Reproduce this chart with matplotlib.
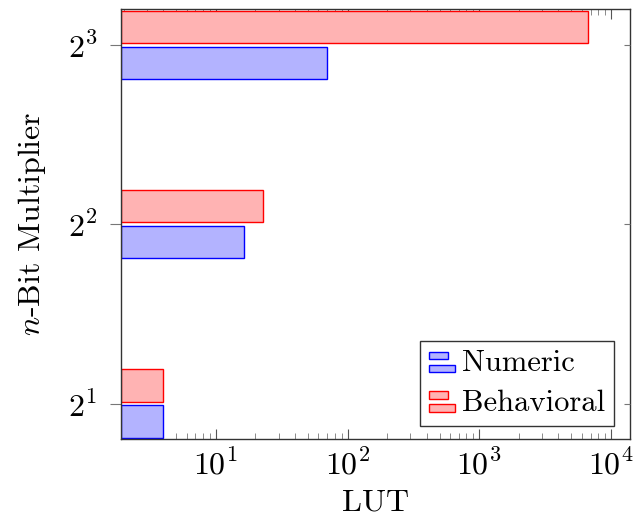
import numpy as np
import matplotlib
matplotlib.use("Agg")
import matplotlib.pyplot as plt
from matplotlib.patches import Rectangle
from matplotlib.legend_handler import HandlerBase
from matplotlib.ticker import LogLocator, FixedLocator, NullLocator, NullFormatter

plt.rcParams["font.family"] = "serif"
plt.rcParams["font.serif"] = ["cmr10"]
plt.rcParams["mathtext.fontset"] = "cm"
plt.rcParams["axes.formatter.use_mathtext"] = True

# data
bits = [2, 4, 8]
numeric_lut = [4, 16.5, 70]
behavioral_lut = [4, 23, 6700]

blue_fill = "#b3b3ff"
red_fill = "#ffb3b3"

# bar placement in octaves (log2 units) around each tick
gap = 0.01
bar_h = 0.18
xmin, xmax = 1.9, 14000
ylo, yhi = 2 ** 0.8, 2 ** 3.2


class TwoBarHandler(HandlerBase):
    def __init__(self, fc, ec):
        super().__init__()
        self.fc = fc
        self.ec = ec

    def create_artists(self, legend, orig_handle, xdescent, ydescent,
                       width, height, fontsize, trans):
        h = height * 0.36
        r1 = Rectangle((-xdescent, -ydescent + height * 0.55), width * 0.72, h,
                       fc=self.fc, ec=self.ec, lw=1.0, transform=trans)
        r2 = Rectangle((-xdescent, -ydescent - height * 0.05), width, h,
                       fc=self.fc, ec=self.ec, lw=1.0, transform=trans)
        return [r1, r2]


fig = plt.figure(figsize=(6.43, 5.2), dpi=100)
ax = fig.add_axes([0.188, 0.155, 0.792, 0.828])

b = np.array(bits, dtype=float)
blue_bottom = b * 2 ** (-gap - bar_h)
blue_top = b * 2 ** (-gap)
red_bottom = b * 2 ** gap
red_top = b * 2 ** (gap + bar_h)

ax.barh(blue_bottom, np.array(numeric_lut) - xmin, height=blue_top - blue_bottom,
        left=xmin, align="edge", color=blue_fill, edgecolor="blue", lw=1.0,
        zorder=3, label="Numeric")
ax.barh(red_bottom, np.array(behavioral_lut) - xmin, height=red_top - red_bottom,
        left=xmin, align="edge", color=red_fill, edgecolor="red", lw=1.0,
        zorder=3, label="Behavioral")

ax.set_xscale("log")
ax.set_yscale("log", base=2)
ax.set_xlim(xmin, xmax)
ax.set_ylim(ylo, yhi)

ax.xaxis.set_major_locator(FixedLocator([10, 100, 1000, 10000]))
ax.xaxis.set_minor_locator(LogLocator(base=10, subs=np.arange(2, 10), numticks=20))
ax.set_xticklabels([r"$10^{1}$", r"$10^{2}$", r"$10^{3}$", r"$10^{4}$"])
ax.yaxis.set_major_locator(FixedLocator(bits))
ax.yaxis.set_minor_locator(NullLocator())
ax.set_yticklabels([r"$2^{1}$", r"$2^{2}$", r"$2^{3}$"])

ax.tick_params(axis="x", which="major", direction="in", length=7, width=0.8,
               top=True, labelsize=23, pad=7, color="#555555")
ax.tick_params(axis="x", which="minor", direction="in", length=4, width=0.6,
               top=True, color="#777777")
ax.tick_params(axis="y", which="major", direction="out", length=8, width=0.8,
               right=False, labelsize=23, pad=9, color="#777777")

# small inward ticks on the right side
ax2 = ax.twinx()
ax2.set_yscale("log", base=2)
ax2.set_ylim(ylo, yhi)
ax2.yaxis.set_major_locator(FixedLocator(bits))
ax2.yaxis.set_minor_locator(NullLocator())
ax2.yaxis.set_major_formatter(NullFormatter())
ax2.tick_params(axis="y", direction="in", length=4, width=0.8, color="#777777")
for s in ax2.spines.values():
    s.set_visible(False)

for s in ax.spines.values():
    s.set_linewidth(1.0)
    s.set_color("#333333")
    s.set_zorder(4)

ax.set_xlabel("LUT", fontsize=23, labelpad=6)
ax.set_ylabel(r"$n$-Bit Multiplier", fontsize=23, labelpad=14)

handles, labels = ax.get_legend_handles_labels()
leg = ax.legend(handles, labels, loc="lower right", fontsize=22,
                bbox_to_anchor=(0.968, 0.031), borderaxespad=0,
                frameon=True, fancybox=False,
                edgecolor="#333333", framealpha=1.0, borderpad=0.3,
                handlelength=0.85, handletextpad=0.2, labelspacing=0.4,
                handler_map={handles[0]: TwoBarHandler(blue_fill, "blue"),
                             handles[1]: TwoBarHandler(red_fill, "red")})
leg.get_frame().set_linewidth(1.0)
leg.set_zorder(5)

fig.savefig("out.png", dpi=100)
